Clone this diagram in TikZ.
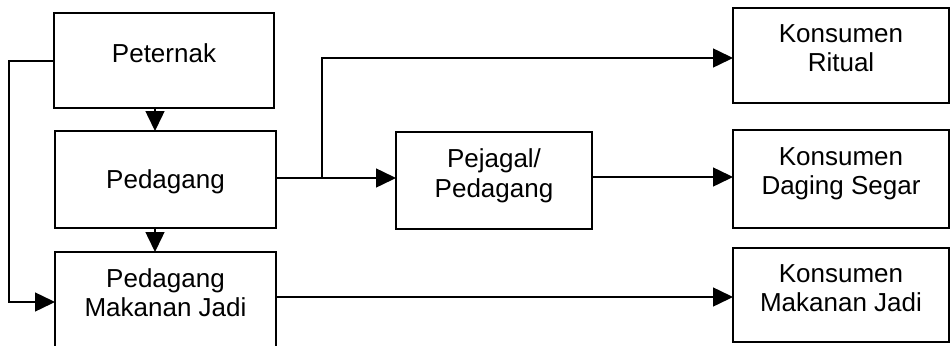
\documentclass[tikz,border=0pt]{standalone}
\usepackage{fontspec}
\setmainfont{Liberation Sans}
\usetikzlibrary{arrows.meta}
\tikzset{
  box/.style={draw, line width=1.8pt, rectangle, inner sep=0pt, outer sep=0pt},
  txt/.style={inner sep=0pt, anchor=base, font=\fontsize{26}{29}\selectfont},
  conn/.style={line width=1.5pt},
  arr/.style={conn, -{Triangle[length=20pt,width=19pt]}}
}
\begin{document}
\begin{tikzpicture}[x=1pt,y=-1pt]
\useasboundingbox (0,0) rectangle (952,345);
\clip (0,0) rectangle (952,345);
% boxes
\node[box, minimum width=220pt, minimum height=95pt] (pet) at (164,60.5) {};
\node[box, minimum width=221pt, minimum height=97pt] (ped) at (165.5,179.5) {};
\node[box, minimum width=221pt, minimum height=120pt] (pmj) at (165.5,312) {};
\node[box, minimum width=196pt, minimum height=97pt] (pej) at (494,180.5) {};
\node[box, minimum width=216pt, minimum height=95pt] (kr) at (841,55.5) {};
\node[box, minimum width=216pt, minimum height=98pt] (kds) at (841,179) {};
\node[box, minimum width=216pt, minimum height=94pt] (kmj) at (841,295) {};
% texts
\node[txt] (t1) at (164,62.7) {Peternak};
\node[txt] (t2) at (165.5,188) {Pedagang};
\node[txt] (t3) at (165.5,287.7) {Pedagang};
\node[txt] (t4) at (165.5,316.7) {Makanan Jadi};
\node[txt] (t5) at (494,167.3) {Pejagal/};
\node[txt] (t6) at (494,197) {Pedagang};
\node[txt] (t7) at (841,42.7) {Konsumen};
\node[txt] (t8) at (841,71.7) {Ritual};
\node[txt] (t9) at (841,165.3) {Konsumen};
\node[txt] (t10) at (841,194) {Daging Segar};
\node[txt] (t11) at (841,282.3) {Konsumen};
\node[txt] (t12) at (841,311) {Makanan Jadi};
% helper coordinates
\coordinate (xa) at (155,0);
\coordinate (yl) at (0,61);
\coordinate (yb) at (0,302);
\coordinate (xl) at (9,0);
\coordinate (ym) at (0,178);
\coordinate (br) at (322,178);
\coordinate (yt) at (0,58);
\coordinate (yd) at (0,177);
\coordinate (yj) at (0,297);
% connectors
\draw[arr] (pet.south -| xa) -- (ped.north -| xa);
\draw[arr] (ped.south -| xa) -- (pmj.north -| xa);
\draw[arr] (pet.west |- yl) -- (xl |- yl) -- (xl |- yb) -- (pmj.west |- yb);
\draw[arr] (ped.east |- ym) -- (pej.west |- ym);
\draw[arr] (br) -- (br |- yt) -- (kr.west |- yt);
\draw[arr] (pej.east |- yd) -- (kds.west |- yd);
\draw[arr] (pmj.east |- yj) -- (kmj.west |- yj);
\end{tikzpicture}
\end{document}
